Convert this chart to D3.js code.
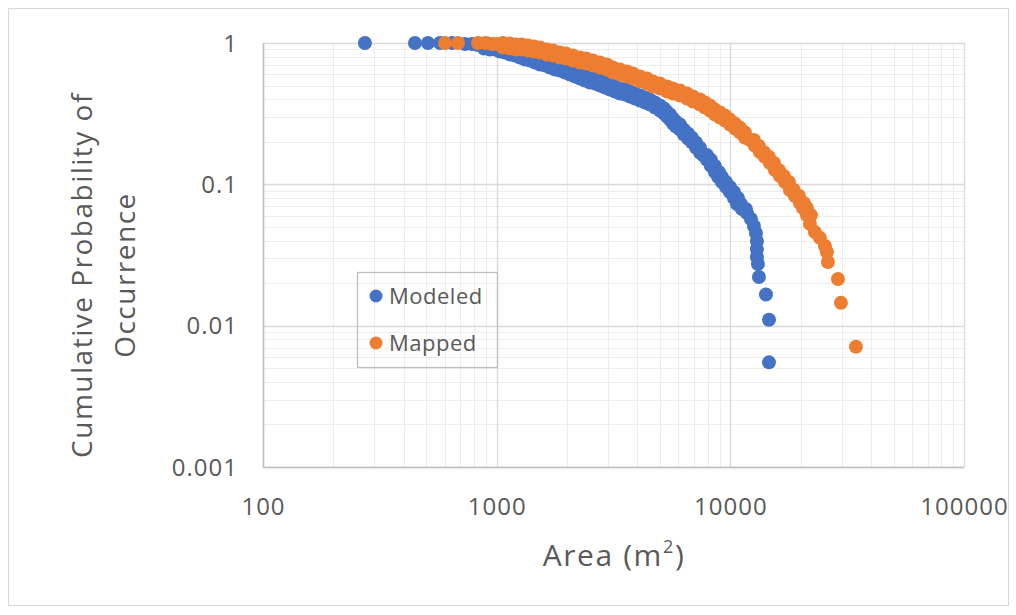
<!DOCTYPE html>
<html><head><meta charset="utf-8">
<script src="https://cdn.jsdelivr.net/npm/d3@7"></script>
<style>body{margin:0;background:#fff}svg{display:block}text{font-family:"Open Sans","Liberation Sans",sans-serif}</style>
</head><body><svg id="c" width="1016" height="615"></svg>
<script>
// ---- data ----
const modeledArea = [273,447,508,572,644,732,784,832,883,936,983,1033,1085,1140,1197,1258,1322,1388,1458,1532,1609,1691,1776,1866,1960,2059,2163,2272,2387,2507,2634,2767,2907,3053,3208,3370,3540,3719,3907,4104,4311,4529,4758,4997,5199,5356,5515,5681,5852,6085,6330,6585,6849,7124,7413,7632,7939,8258,8594,8850,9207,9577,9961,10361,10671,11210,11776,12250,12620,12870,12995,12995,12995,13125,13255,14206,14636,14636,
  883,936,983,1033,1085,1140,1197,1258,1322,1388,1458,1532,1609,1691,1776,1866,1960,2059,2163,2272,2387,2507,2634,2767,2907,3053,3208,3370,3540,3719,3907,4104,4311,4529,4758,4997,5199,5356,5515,5681,5852,6085,6330,6585,6849,7124,7413,
  7939,8258,8592,8940,9206,9577,9962,10362,10778,11100,11661];
const modeledProb = [1,1,1,1,1,0.984,0.984,0.968,0.992,0.900,0.976,0.871,0.929,0.829,0.885,0.790,0.829,0.752,0.790,0.705,0.752,0.671,0.705,0.639,0.671,0.598,0.628,0.561,0.589,0.525,0.561,0.500,0.525,0.469,0.492,0.439,0.469,0.418,0.439,0.392,0.412,0.367,0.379,0.333,0.344,0.302,0.312,0.269,0.278,0.244,0.244,0.211,0.214,0.182,0.182,0.161,0.149,0.135,0.122,0.113,0.104,0.0958,0.0882,0.0800,0.0725,0.0669,0.0626,0.0568,0.0507,0.0452,0.0397,0.0348,0.0306,0.0273,0.0221,0.0166,0.0110,0.0055,
  0.914,0.976,0.900,0.944,0.857,0.900,0.816,0.857,0.764,0.816,0.728,0.764,0.693,0.728,0.649,0.693,0.618,0.649,0.579,0.608,0.543,0.570,0.517,0.543,0.484,0.508,0.454,0.476,0.432,0.454,0.405,0.425,0.379,0.398,0.350,0.361,0.317,0.327,0.287,0.292,0.256,0.265,0.225,0.229,0.198,0.198,0.168,
  0.161,0.149,0.135,0.122,0.113,0.104,0.0958,0.0882,0.0800,0.0725,0.0669];
const mappedArea = [601,683,832,900,955,1003,1064,1140,1210,1283,1361,1444,1532,1641,1741,1866,1979,2121,2272,2411,2583,2767,2965,3145,3370,3610,3830,4104,4397,4665,4997,5356,5681,6085,6521,6918,7413,7787,8180,8594,9028,9483,9961,10464,10990,11546,12131,12747,13387,14065,14774,15521,16304,17130,17989,18898,19859,20453,21271,21908,23010,24170,25398,25903,26160,28870,29740,34470,
  1064,1140,1210,1283,1361,1444,1532,1641,1741,1866,1979,2121,2272,2411,2583,2767,2965,3145,3370,3610,3830,4104,4397,4665,4997,5356,5681,6085,6521,6918,7413,7787,8180,8594,9028,9483,9961,10464,10990,11546,
  12619,13259,13925,14630,15368,16145,16960,17819,18712,19658,20657,21275,22126];
const mappedProb = [1,1,1,1,0.984,0.984,0.929,0.992,0.900,0.976,0.885,0.944,0.857,0.900,0.816,0.857,0.777,0.816,0.728,0.777,0.693,0.728,0.649,0.671,0.598,0.628,0.561,0.579,0.517,0.534,0.476,0.492,0.439,0.461,0.405,0.418,0.367,0.379,0.333,0.338,0.297,0.307,0.265,0.269,0.233,0.233,0.206,0.187,0.169,0.156,0.1415,0.126,0.1145,0.1038,0.0911,0.0826,0.0737,0.068,0.0606,0.0525,0.0460,0.0418,0.0366,0.0332,0.0282,0.0214,0.0145,0.0071,
  1,0.914,0.976,0.900,0.960,0.871,0.929,0.829,0.885,0.790,0.843,0.752,0.790,0.716,0.752,0.671,0.705,0.618,0.649,0.579,0.608,0.534,0.561,0.492,0.517,0.454,0.476,0.425,0.439,0.385,0.398,0.350,0.361,0.312,0.322,0.283,0.287,0.248,0.252,0.214,
  0.206,0.187,0.169,0.156,0.1415,0.126,0.1145,0.1038,0.0911,0.0826,0.0737,0.068,0.0606];
const xTicks = [100,1000,10000,100000];
const yTicks = [0.001,0.01,0.1,1];
const xTickLabels = ["100","1000","10000","100000"];
const yTickLabels = ["0.001","0.01","0.1","1"];
const seriesNames = ["Modeled","Mapped"];
const seriesColors = ["#4472C4","#ED7D31"];

const svg = d3.select("#c");
const L=263,R=964,T=43,B=467;
const x = d3.scaleLog().domain([100,100000]).range([L,R]);
const y = d3.scaleLog().domain([0.001,1]).range([B,T]);

svg.append("rect").attr("x",8.5).attr("y",8.5).attr("width",1000).attr("height",597)
  .attr("fill","#fff").attr("stroke","#d9d9d9");

// minor grid
const minorX=[],minorY=[];
[100,1000,10000].forEach(d=>{for(let k=2;k<10;k++)minorX.push(d*k);});
[0.001,0.01,0.1].forEach(d=>{for(let k=2;k<10;k++)minorY.push(d*k);});
const g=svg.append("g");
g.selectAll(".mx").data(minorX).join("line").attr("x1",d=>Math.round(x(d))+0.5).attr("x2",d=>Math.round(x(d))+0.5)
  .attr("y1",T).attr("y2",B).attr("stroke","#ededed").attr("stroke-width",1);
g.selectAll(".my").data(minorY).join("line").attr("y1",d=>Math.round(y(d))+0.5).attr("y2",d=>Math.round(y(d))+0.5)
  .attr("x1",L).attr("x2",R).attr("stroke","#ededed").attr("stroke-width",1);
// major grid
g.selectAll(".Mx").data(xTicks).join("line").attr("x1",d=>Math.round(x(d))+0.5).attr("x2",d=>Math.round(x(d))+0.5)
  .attr("y1",T).attr("y2",B).attr("stroke","#d9d9d9").attr("stroke-width",1.3);
g.selectAll(".My").data(yTicks).join("line").attr("y1",d=>Math.round(y(d))+0.5).attr("y2",d=>Math.round(y(d))+0.5)
  .attr("x1",L).attr("x2",R).attr("stroke","#d9d9d9").attr("stroke-width",1.3);
// axis lines
svg.append("line").attr("x1",L+0.5).attr("x2",L+0.5).attr("y1",T).attr("y2",B+1).attr("stroke","#bfbfbf").attr("stroke-width",1.5);
svg.append("line").attr("x1",L).attr("x2",R).attr("y1",B+0.5).attr("y2",B+0.5).attr("stroke","#bfbfbf").attr("stroke-width",1.5);

// tick labels
svg.selectAll(".xt").data(xTicks).join("text").attr("x",d=>x(d)+0.5).attr("y",B+48)
  .attr("text-anchor","middle").attr("font-size",24).attr("letter-spacing",1).attr("fill","#595959").text((d,i)=>xTickLabels[i]);
svg.selectAll(".yt").data(yTicks).join("text").attr("x",L-25).attr("y",d=>y(d)+8.5)
  .attr("text-anchor","end").attr("font-size",24).attr("letter-spacing",1).attr("fill","#595959").text((d,i)=>yTickLabels[i]);

// axis titles
const xt=svg.append("text").attr("x",614).attr("y",566).attr("text-anchor","middle").attr("font-size",30).attr("letter-spacing",1.6).attr("fill","#595959");
xt.append("tspan").text("Area (m");
xt.append("tspan").attr("font-size",18).attr("dy",-13).text("2");
xt.append("tspan").attr("dy",13).text(")");
const yt=svg.append("text").attr("font-size",28).attr("letter-spacing",1.5).attr("fill","#595959").attr("text-anchor","middle");
yt.append("tspan").attr("x",0).attr("y",0).text("Cumulative Probability of");
yt.append("tspan").attr("x",0).attr("y",43).text("Occurrence");
yt.attr("transform","translate(92,275) rotate(-90)");

// points (Modeled first, Mapped on top)
const series=[{a:modeledArea,p:modeledProb},{a:mappedArea,p:mappedProb}];
series.forEach((s,i)=>{
  const n=Math.min(s.a.length,s.p.length);
  svg.append("g").selectAll("circle").data(d3.range(n).map(j=>[s.a[j],s.p[j]])).join("circle")
    .attr("cx",d=>x(d[0])).attr("cy",d=>y(d[1])).attr("r",7).attr("fill",seriesColors[i]);
});

// legend
const lg=svg.append("g");
lg.append("rect").attr("x",357.5).attr("y",272.5).attr("width",140).attr("height",95).attr("fill","none").attr("stroke","#bfbfbf").attr("stroke-width",1.3);
seriesNames.forEach((n,i)=>{
  lg.append("circle").attr("cx",376).attr("cy",296+i*47).attr("r",6.5).attr("fill",seriesColors[i]);
  lg.append("text").attr("x",389).attr("y",304+i*47).attr("font-size",22).attr("letter-spacing",0.5).attr("fill","#595959").text(n);
});
</script></body></html>
